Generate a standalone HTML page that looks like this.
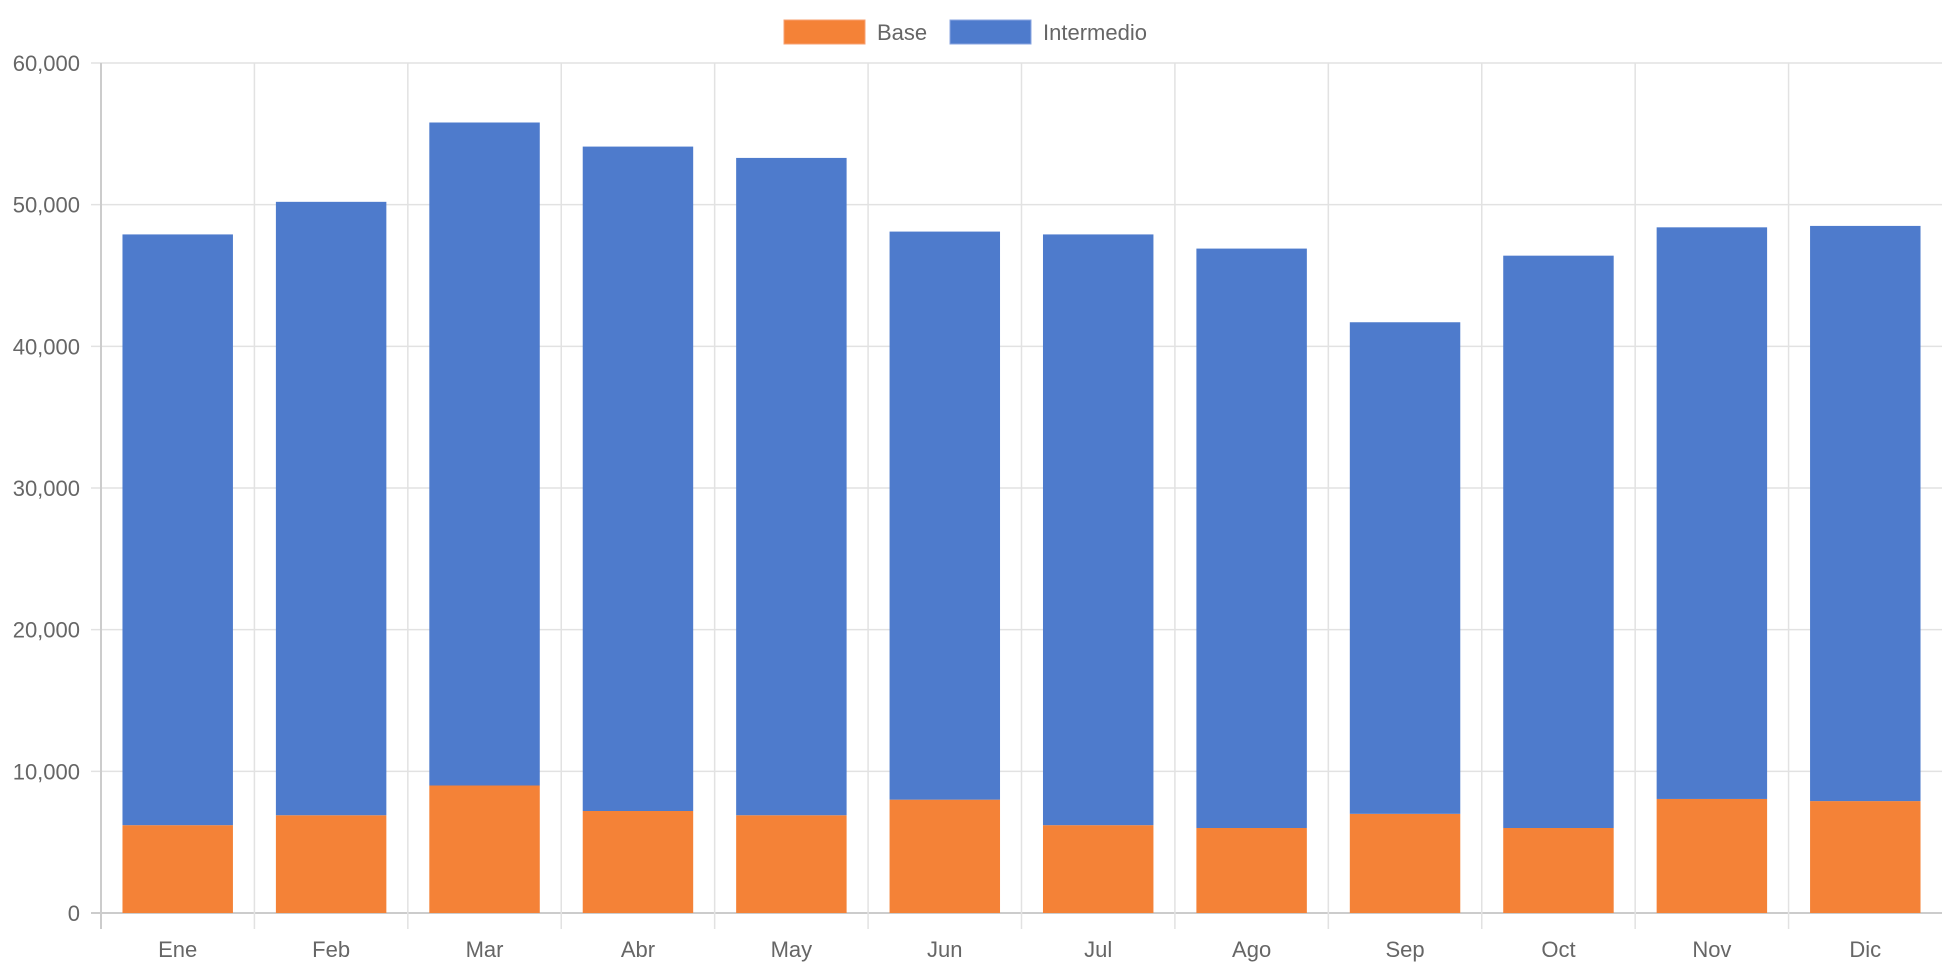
<!DOCTYPE html>
<html><head><meta charset="utf-8"><style>
html,body{margin:0;padding:0;background:#fff;}
svg{display:block;font-family:"Liberation Sans",sans-serif;}
</style></head><body>
<svg id="chart" width="1942" height="970" viewBox="0 0 1942 970" xmlns="http://www.w3.org/2000/svg">
<g id="legend">
<g>
<rect x="784" y="20" width="81" height="24" fill="#f48237" stroke="#f7a070" stroke-width="1"/>
<text x="877" y="40" font-size="22" fill="#666">Base</text></g>
<g>
<rect x="950" y="20" width="81" height="24" fill="#4e7bcc" stroke="#8aa6e0" stroke-width="1"/>
<text x="1043" y="40" font-size="22" fill="#666">Intermedio</text></g>
</g>
<g id="grid"></g>
<g id="bars"></g>
<g id="axes"></g>
</svg>
<script>
const categories = ["Ene","Feb","Mar","Abr","May","Jun","Jul","Ago","Sep","Oct","Nov","Dic"];
const baseValues = [6200,6900,9000,7200,6900,8000,6200,6000,7000,6000,8050,7900];
const intermedioValues = [41700,43300,46800,46900,46400,40100,41700,40900,34700,40400,40350,40600];
const yTicks = [0,10000,20000,30000,40000,50000,60000];
const yTickLabels = ["0","10,000","20,000","30,000","40,000","50,000","60,000"];

const NS="http://www.w3.org/2000/svg";
const plotLeft=101,plotRight=1942,plotTop=63,plotBottom=913,yMax=60000;
const band=(plotRight-plotLeft)/categories.length;
function yScale(v){return plotBottom-(v/yMax)*(plotBottom-plotTop);}
function xBand(i){return plotLeft+i*band;}
function mk(tag,attrs,parent){const e=document.createElementNS(NS,tag);for(const k in attrs)e.setAttribute(k,attrs[k]);parent.appendChild(e);return e;}
const gridG=document.getElementById('grid'),barsG=document.getElementById('bars'),axesG=document.getElementById('axes');

yTicks.forEach((t,i)=>{
  const yy=yScale(t);
  const l=mk('line',{x1:plotLeft-10,x2:plotRight,y1:yy,y2:yy,stroke:i===0?'#ccc':'#e2e2e2','stroke-width':i===0?2:1.5},gridG);
  
  
  const tx=mk('text',{x:80,y:yy+8,'text-anchor':'end','font-size':22,fill:'#666'},axesG);
  tx.textContent=yTickLabels[i];
  
  
});
for(let i=0;i<categories.length;i++){
  const xx=xBand(i);
  const l=mk('line',{x1:xx,x2:xx,y1:plotTop,y2:plotBottom+16,stroke:i===0?'#ccc':'#e2e2e2','stroke-width':i===0?2:1.5},gridG);
  
  
}
categories.forEach((c,i)=>{
  const cx=xBand(i)+band/2, w=band*0.72, bx=cx-w/2;
  const b=baseValues[i], m=intermedioValues[i];
  const r1=mk('rect',{x:bx,y:yScale(b),width:w,height:yScale(0)-yScale(b),fill:'#f48237'},barsG);
  
  
  const r2=mk('rect',{x:bx,y:yScale(b+m),width:w,height:yScale(b)-yScale(b+m),fill:'#4e7bcc'},barsG);
  
  
  const t=mk('text',{x:cx,y:957,'text-anchor':'middle','font-size':22,fill:'#666'},axesG);
  t.textContent=c;
  
  
});
</script>
</body></html>
